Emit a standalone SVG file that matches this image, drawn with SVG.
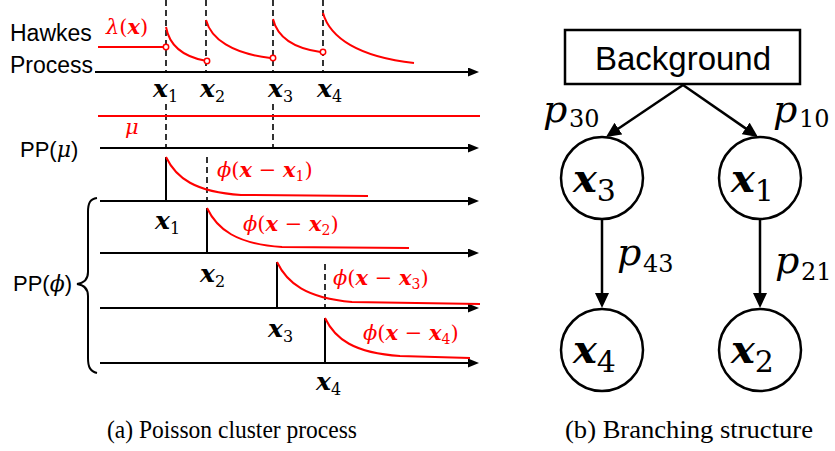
<svg xmlns="http://www.w3.org/2000/svg" width="835" height="451" viewBox="0 0 835 451">
<style>
.ax{stroke:#000;stroke-width:2;fill:none}
.dash{stroke:#000;stroke-width:1.6;stroke-dasharray:6 4;fill:none}
.red{stroke:#f00;stroke-width:2;fill:none}
.vt{stroke:#000;stroke-width:2;fill:none}
.sans{font-family:"Liberation Sans",Arial,sans-serif;fill:#000}
.math{font-family:"DejaVu Serif",serif}
.bx{font-weight:bold;font-style:italic}
.it{font-style:italic}
.rt{fill:#f00}
.node{fill:#fff;stroke:#000;stroke-width:2.5}
.conn{stroke:#000;stroke-width:2.5;fill:none}
.cap{font-family:"Liberation Serif","Times New Roman",serif;font-size:25px;fill:#000}
</style>
<defs>
<marker id="axh" markerUnits="userSpaceOnUse" markerWidth="12" markerHeight="10" refX="3" refY="4.5" orient="auto">
<path d="M0,0 L11,4.5 L0,9 z" fill="#000"/>
</marker>
<marker id="th" markerUnits="userSpaceOnUse" markerWidth="16" markerHeight="14" refX="7" refY="7" orient="auto">
<path d="M0,0 L15,7 L0,14 z" fill="#000"/>
</marker>
</defs>
<rect width="835" height="451" fill="#fff"/>

<g id="panel-a">
<text class="sans" x="10" y="41" font-size="23">Hawkes</text>
<text class="sans" x="10" y="73" font-size="23">Process</text>
<text class="sans" x="20" y="157" font-size="22">PP(<tspan class="math it">μ</tspan>)</text>
<text class="sans" x="13" y="291" font-size="22">PP(<tspan class="math it">ϕ</tspan>)</text>
<path class="vt" stroke-width="1.6" d="M97,198 C90,199 88,203 88,212 L88,272 C88,279 84,283 77,284 C84,285 88,289 88,296 L88,358 C88,367 90,371 97,373"/>

<path class="dash" d="M166,0 V72 M166,104 V148 M206,0 V72 M273,0 V72 M273,104 V148 M323,0 V72 M207,157 V201 M325,264 V308"/>

<g marker-end="url(#axh)">
<line class="ax" x1="95" y1="72" x2="471" y2="72"/>
<line class="ax" x1="100" y1="148" x2="471" y2="148"/>
<line class="ax" x1="100" y1="201" x2="471" y2="201"/>
<line class="ax" x1="100" y1="253" x2="471" y2="253"/>
<line class="ax" x1="100" y1="308" x2="471" y2="308"/>
<line class="ax" x1="100" y1="363" x2="471" y2="363"/>
</g>

<path class="red" d="M98,47 H163.5"/>
<path class="red" d="M166,27 C169,43.5 181,56 204.5,60.5"/>
<path class="red" d="M206,20 C211,39 232,53.4 270.5,58"/>
<path class="red" d="M273,19 C277,35.5 292,48 320.5,52"/>
<path class="red" d="M323,13 C330,38 359,57 414,63"/>
<g fill="#fff" stroke="#f00" stroke-width="1.5">
<circle cx="166" cy="47" r="2.7"/>
<circle cx="207" cy="61" r="2.7"/>
<circle cx="273" cy="58" r="2.7"/>
<circle cx="323" cy="52" r="2.7"/>
</g>
<text class="math rt" x="106" y="34" font-size="21"><tspan class="it">λ</tspan>(<tspan class="bx">x</tspan>)</text>

<path class="red" d="M98,116 H480"/>
<text class="math rt it" x="125" y="134" font-size="21">μ</text>

<g class="math" font-size="25">
<text x="153" y="97"><tspan class="bx">x</tspan><tspan font-size="16" dy="5">1</tspan></text>
<text x="200" y="97"><tspan class="bx">x</tspan><tspan font-size="16" dy="5">2</tspan></text>
<text x="268" y="97"><tspan class="bx">x</tspan><tspan font-size="16" dy="5">3</tspan></text>
<text x="317" y="97"><tspan class="bx">x</tspan><tspan font-size="16" dy="5">4</tspan></text>
</g>

<path class="vt" d="M166,157 V201 M207,208 V253 M277,262 V308 M325,318 V363"/>
<path class="red" d="M166,157 C176,178 195,192 241,195 L368,196"/>
<path class="red" d="M207,208 C217,229 236,244 282,247 L409,248"/>
<path class="red" d="M277,262 C287,283 306,298 352,302 L480,304"/>
<path class="red" d="M325,318 C335,339 354,353 400,356 L470,358"/>

<g class="math rt" font-size="21">
<text x="217" y="177"><tspan class="it">ϕ</tspan>(<tspan class="bx">x</tspan> − <tspan class="bx">x</tspan><tspan font-size="14" dy="4">1</tspan><tspan dy="-4">)</tspan></text>
<text x="243" y="231"><tspan class="it">ϕ</tspan>(<tspan class="bx">x</tspan> − <tspan class="bx">x</tspan><tspan font-size="14" dy="4">2</tspan><tspan dy="-4">)</tspan></text>
<text x="333" y="285"><tspan class="it">ϕ</tspan>(<tspan class="bx">x</tspan> − <tspan class="bx">x</tspan><tspan font-size="14" dy="4">3</tspan><tspan dy="-4">)</tspan></text>
<text x="363" y="340"><tspan class="it">ϕ</tspan>(<tspan class="bx">x</tspan> − <tspan class="bx">x</tspan><tspan font-size="14" dy="4">4</tspan><tspan dy="-4">)</tspan></text>
</g>

<g class="math" font-size="25">
<text x="155" y="229"><tspan class="bx">x</tspan><tspan font-size="16" dy="5">1</tspan></text>
<text x="200" y="282"><tspan class="bx">x</tspan><tspan font-size="16" dy="5">2</tspan></text>
<text x="268" y="337"><tspan class="bx">x</tspan><tspan font-size="16" dy="5">3</tspan></text>
<text x="316" y="390"><tspan class="bx">x</tspan><tspan font-size="16" dy="5">4</tspan></text>
</g>

<text class="cap" x="107" y="438" textLength="250" lengthAdjust="spacingAndGlyphs">(a)  Poisson cluster process</text>
</g>

<g id="connectors">
<line class="conn" x1="683" y1="85" x2="612.6" y2="132.5" marker-end="url(#th)"/>
<line class="conn" x1="683" y1="85" x2="751.4" y2="132.4" marker-end="url(#th)"/>
<line class="conn" x1="602" y1="219" x2="602" y2="300" marker-end="url(#th)"/>
<line class="conn" x1="760" y1="219" x2="760" y2="300" marker-end="url(#th)"/>
<g class="math">
<text x="543" y="122" font-size="38" class="it">p</text><text x="569" y="127" font-size="24">30</text>
<text x="773" y="122" font-size="38" class="it">p</text><text x="799" y="127" font-size="24">10</text>
<text x="617" y="265" font-size="38" class="it">p</text><text x="643" y="272" font-size="24">43</text>
<text x="775" y="273" font-size="38" class="it">p</text><text x="801" y="280" font-size="24">21</text>
</g>
</g>

<g id="node-background">
<rect class="node" x="565" y="30" width="235" height="54"/>
<text class="sans" x="683" y="70" font-size="33" text-anchor="middle">Background</text>
</g>
<g id="node-x3">
<circle class="node" cx="602" cy="178" r="41"/>
<text class="math" x="573" y="192"><tspan class="bx" font-size="40">x</tspan><tspan font-size="30" dy="9">3</tspan></text>
</g>
<g id="node-x1">
<circle class="node" cx="760" cy="178" r="41"/>
<text class="math" x="731" y="192"><tspan class="bx" font-size="40">x</tspan><tspan font-size="30" dy="9">1</tspan></text>
</g>
<g id="node-x4">
<circle class="node" cx="602" cy="350" r="41"/>
<text class="math" x="573" y="363"><tspan class="bx" font-size="40">x</tspan><tspan font-size="30" dy="9">4</tspan></text>
</g>
<g id="node-x2">
<circle class="node" cx="760" cy="350" r="41"/>
<text class="math" x="731" y="363"><tspan class="bx" font-size="40">x</tspan><tspan font-size="30" dy="9">2</tspan></text>
</g>

<text class="cap" x="565" y="438" textLength="248" lengthAdjust="spacingAndGlyphs">(b)  Branching structure</text>
</svg>
